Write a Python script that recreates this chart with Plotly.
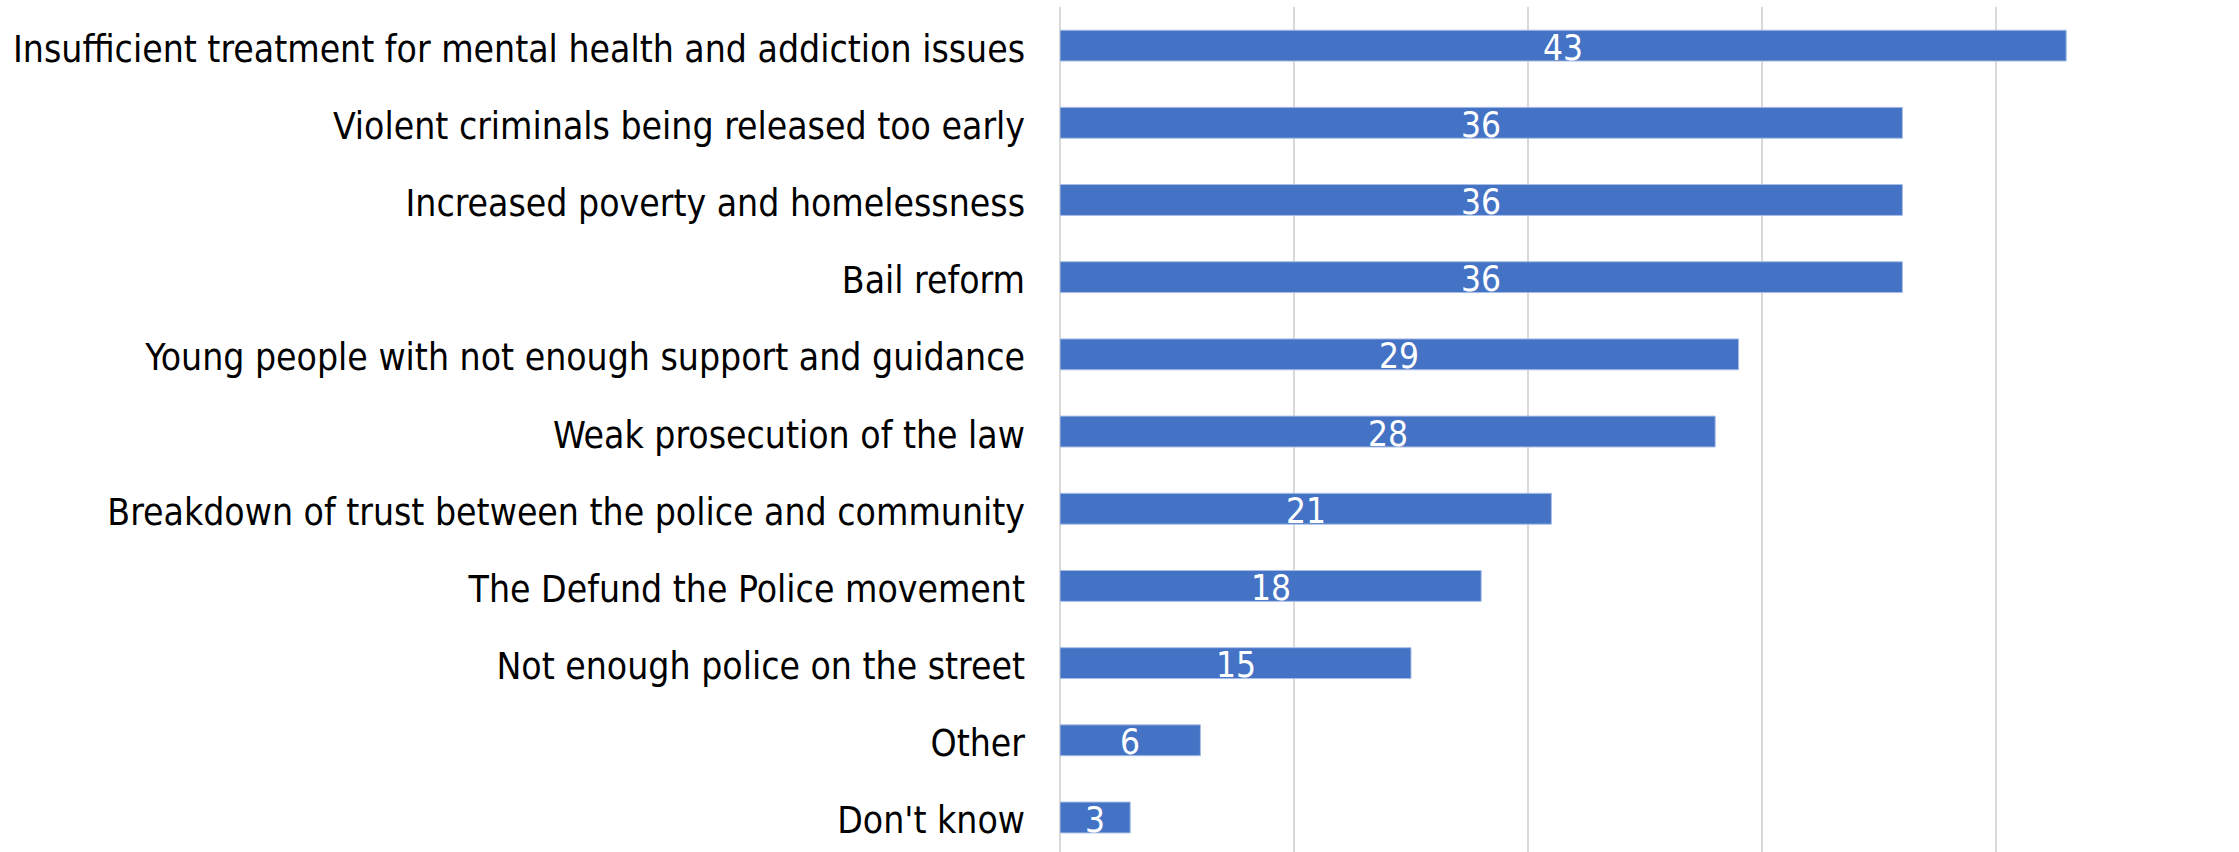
import plotly.graph_objects as go

# Survey responses: perceived causes of rising crime (% of respondents)
categories = [
    "Insufficient treatment for mental health and addiction issues",
    "Violent criminals being released too early",
    "Increased poverty and homelessness",
    "Bail reform",
    "Young people with not enough support and guidance",
    "Weak prosecution of the law",
    "Breakdown of trust between the police and community",
    "The Defund the Police movement",
    "Not enough police on the street",
    "Other",
    "Don't know",
]
values = [43, 36, 36, 36, 29, 28, 21, 18, 15, 6, 3]

FONT = "DejaVu Sans Condensed, Roboto, sans-serif"
BAR_COLOR = "#4472C4"
GRID_COLOR = "#D9D9D9"

rows = list(range(len(categories)))

fig = go.Figure()

fig.add_trace(
    go.Bar(
        x=values,
        y=rows,
        orientation="h",
        width=0.4,
        marker=dict(color=BAR_COLOR, line=dict(color="#A9BEE6", width=1)),
        hoverinfo="skip",
    )
)

# value labels centred on each bar, allowed to overhang the bar height
for row, v in zip(rows, values):
    fig.add_annotation(
        x=v / 2,
        y=row,
        xref="x",
        yref="y",
        text=str(v),
        showarrow=False,
        xanchor="center",
        yanchor="middle",
        yshift=-2,
        font=dict(family=FONT, size=35, color="white"),
    )

fig.update_layout(
    width=2239,
    height=852,
    margin=dict(l=1060, r=9, t=7, b=0),
    paper_bgcolor="white",
    plot_bgcolor="white",
    showlegend=False,
)

fig.update_xaxes(
    range=[0, 50],
    tickvals=[0, 10, 20, 30, 40, 50],
    showticklabels=False,
    showgrid=True,
    gridcolor=GRID_COLOR,
    gridwidth=2,
    zeroline=True,
    zerolinecolor=GRID_COLOR,
    zerolinewidth=2,
    showline=False,
)

fig.update_yaxes(
    range=[10.447, -0.5],
    tickvals=rows,
    ticktext=categories,
    tickfont=dict(family=FONT, size=37, color="black"),
    ticks="",
    ticklabelstandoff=34,
    ticklabelshift=-3,
    showgrid=False,
    zeroline=False,
    showline=False,
)

fig.write_html("out.html")
